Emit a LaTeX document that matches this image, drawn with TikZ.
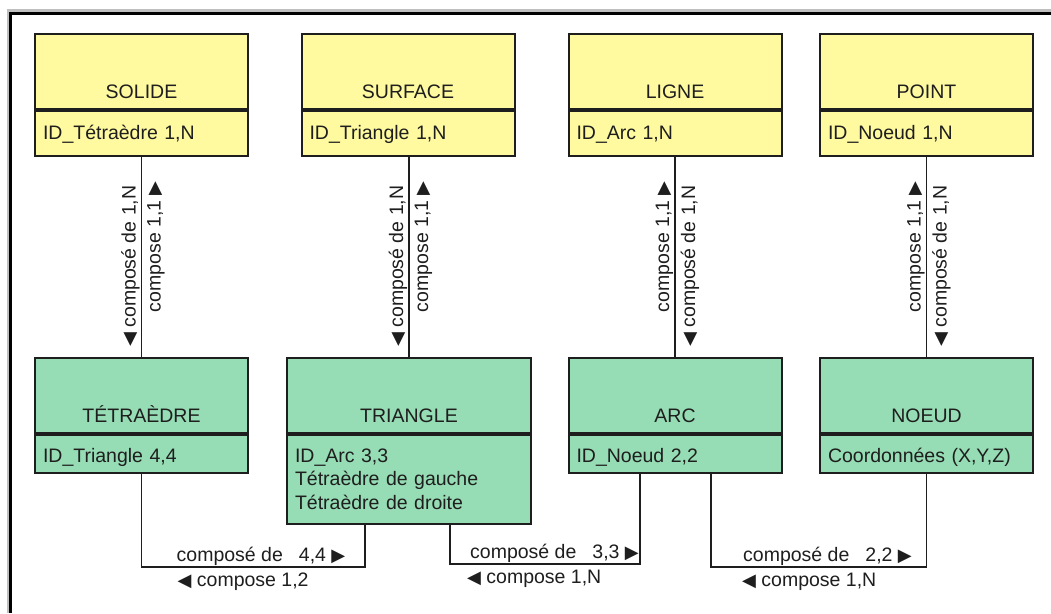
\documentclass[tikz,border=0pt]{standalone}
\usepackage{fontspec}
\setmainfont{Liberation Sans}
\newfontfamily\symfont{DejaVu Sans}
\usetikzlibrary{positioning}

\definecolor{jaune}{RGB}{255,250,160}
\definecolor{vert}{RGB}{150,220,180}
\definecolor{encre}{RGB}{30,30,30}

\newcommand{\fd}{{\symfont\fontsize{18}{18}\selectfont ▶}}
\newcommand{\fg}{{\symfont\fontsize{18}{18}\selectfont ◀}}

\begin{document}
\begin{tikzpicture}[
      x=1pt, y=-1pt,
      font=\fontsize{19.5}{23.5}\selectfont,
      titre/.style={
         draw=encre,
         line width=2pt,
         text=encre,
         anchor=north,
         minimum width=213pt,
         inner xsep=0pt,
         inner ysep=7pt,
         text height=57pt,
         text depth=4pt},
      attr/.style={
         draw=encre,
         line width=2pt,
         text=encre,
         align=left,
         text width=197pt,
         inner xsep=8pt,
         inner ysep=8pt,
         text height=20pt,
         text depth=9pt},
      lien/.style={draw=encre, line width=1.5pt},
      etiq/.style={inner sep=0pt, text=encre},
      descend/.style={etiq, rotate=90, anchor=base west},
      monte/.style={etiq, rotate=90, anchor=base east},
      node distance=0pt
      ]
      \useasboundingbox (0,0) rectangle (1051,613);
      \draw[gray!50, line width=3pt] (8,613) -- (8,10) -- (1051,10);
      \draw[black, line width=3pt] (10.5,613) -- (10.5,13.5) -- (1051,13.5);

      % entites du haut
      \node[titre,fill=jaune] (solide) at (141.5,33) {SOLIDE};
      \node[attr,fill=jaune,below=of solide] (solide-a) {ID\_Tétraèdre 1,N};
      \node[titre,fill=jaune] (surface) at (408,33) {SURFACE};
      \node[attr,fill=jaune,below=of surface] (surface-a) {ID\_Triangle 1,N};
      \node[titre,fill=jaune] (ligne) at (675,33) {LIGNE};
      \node[attr,fill=jaune,below=of ligne] (ligne-a) {ID\_Arc 1,N};
      \node[titre,fill=jaune] (point) at (926.5,33) {POINT};
      \node[attr,fill=jaune,below=of point] (point-a) {ID\_Noeud 1,N};

      % entites du bas
      \node[titre,fill=vert] (tetra) at (141.5,357) {TÉTRAÈDRE};
      \node[attr,fill=vert,below=of tetra,text height=19pt,text depth=3pt] (tetra-a) {ID\_Triangle 4,4};
      \node[titre,fill=vert,minimum width=244pt] (tri) at (409,357) {TRIANGLE};
      \node[attr,fill=vert,below=of tri,text width=228pt,text height=19pt,text depth=54pt] (tri-a)
         {ID\_Arc 3,3\\Tétraèdre de gauche\\Tétraèdre de droite};
      \node[titre,fill=vert] (arc) at (675,357) {ARC};
      \node[attr,fill=vert,below=of arc,text height=19pt,text depth=3pt] (arc-a) {ID\_Noeud 2,2};
      \node[titre,fill=vert] (noeud) at (926.5,357) {NOEUD};
      \node[attr,fill=vert,below=of noeud,text height=19pt,text depth=3pt] (noeud-a) {Coordonnées (X,Y,Z)};

      \foreach \h/\b in {solide-a/tetra, surface-a/tri, ligne-a/arc, point-a/noeud}
         \draw[lien] (\b.north |- \h.south) -- (\b.north);

      \node[descend] (d1) at ([xshift=-6pt,yshift=10pt]tetra.north) {\fg\ composé de 1,N};
      \node[monte] (m1) at ([xshift=19pt,yshift=176pt]tetra.north) {compose 1,1\ \fd};
      \node[descend] (d2) at ([xshift=-6pt,yshift=10pt]tri.north) {\fg\ composé de 1,N};
      \node[monte] (m2) at ([xshift=19pt,yshift=176pt]tri.north) {compose 1,1\ \fd};
      \node[monte] (m3) at ([xshift=-6pt,yshift=176pt]arc.north) {compose 1,1\ \fd};
      \node[descend] (d3) at ([xshift=20pt,yshift=10pt]arc.north) {\fg\ composé de 1,N};
      \node[monte] (m4) at ([xshift=-6pt,yshift=176pt]noeud.north) {compose 1,1\ \fd};
      \node[descend] (d4) at ([xshift=20pt,yshift=10pt]noeud.north) {\fg\ composé de 1,N};

      % liaisons du bas
      \draw[lien] (tetra-a.south) -- ++(0,93) coordinate (k1) -| ([xshift=-44pt]tri-a.south);
      \draw[lien] ([xshift=41pt]tri-a.south) -- ++(0,39) coordinate (k2) -| ([xshift=-35pt]arc-a.south);
      \draw[lien] ([xshift=36pt]arc-a.south) -- ++(0,93) coordinate (k3) -| (noeud-a.south);

      \node[etiq,anchor=base east] (h1) at ([xshift=204pt,yshift=6pt]k1) {composé de\hspace{16pt}4,4\ \fd};
      \node[etiq,anchor=base west] (b1) at ([xshift=36pt,yshift=-19pt]k1) {\fg\ compose 1,2};
      \node[etiq,anchor=base east] (h2) at ([xshift=189pt,yshift=6pt]k2) {composé de\hspace{16pt}3,3\ \fd};
      \node[etiq,anchor=base west] (b2) at ([xshift=17pt,yshift=-19pt]k2) {\fg\ compose 1,N};
      \node[etiq,anchor=base east] (h3) at ([xshift=201pt,yshift=6pt]k3) {composé de\hspace{16pt}2,2\ \fd};
      \node[etiq,anchor=base west] (b3) at ([xshift=31pt,yshift=-19pt]k3) {\fg\ compose 1,N};
\end{tikzpicture}
\end{document}
